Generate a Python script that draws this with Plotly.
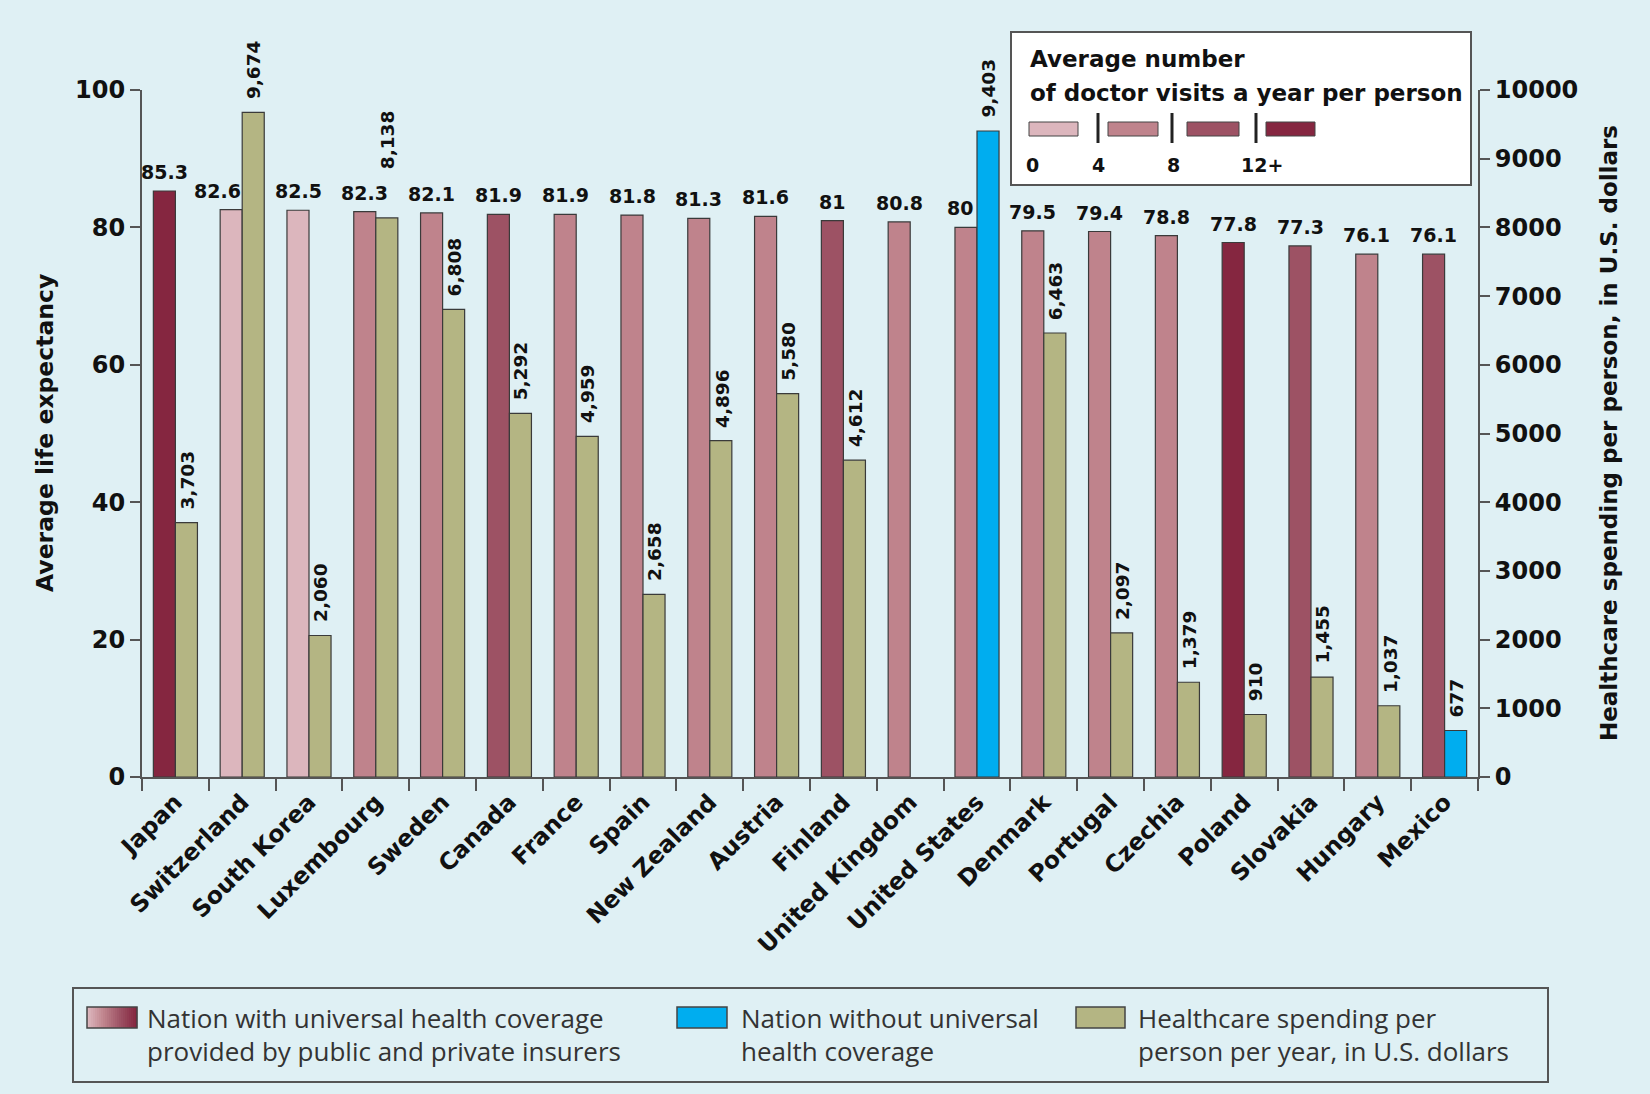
import plotly.graph_objects as go

# ---------------- data ----------------
countries = ["Japan", "Switzerland", "South Korea", "Luxembourg", "Sweden", "Canada",
             "France", "Spain", "New Zealand", "Austria", "Finland", "United Kingdom",
             "United States", "Denmark", "Portugal", "Czechia", "Poland", "Slovakia",
             "Hungary", "Mexico"]
life_expectancy = [85.3, 82.6, 82.5, 82.3, 82.1, 81.9, 81.9, 81.8, 81.3, 81.6, 81, 80.8,
                   80, 79.5, 79.4, 78.8, 77.8, 77.3, 76.1, 76.1]
spending = [3703, 9674, 2060, 8138, 6808, 5292, 4959, 2658, 4896, 5580, 4612, None,
            9403, 6463, 2097, 1379, 910, 1455, 1037, 677]
# doctor-visit band: 0 -> 0-4, 1 -> 4-8, 2 -> 8-12, 3 -> 12+
visit_band = [3, 0, 0, 1, 1, 2, 1, 1, 1, 1, 2, 1, 1, 1, 1, 1, 3, 2, 1, 2]
universal = [True, True, True, True, True, True, True, True, True, True, True, True,
             False, True, True, True, True, True, True, False]
visit_tick_labels = ["0", "4", "8", "12+"]
legend_labels = [
    ["Nation with universal health coverage", "provided by public and private insurers"],
    ["Nation without universal", "health coverage"],
    ["Healthcare spending per", "person per year, in U.S. dollars"],
]
left_title = "Average life expectancy"
right_title = "Healthcare spending per person, in U.S. dollars"
box_title = ["Average number", "of doctor visits a year per person"]

# ---------------- styles ----------------
BG = "#dff0f4"
VISIT_COLORS = ["#dcb6bd", "#bf838c", "#9d5264", "#852640"]
OLIVE = "#b4b583"
BLUE = "#00adef"
OUTLINE = "#3a3a3a"
AX = "#555555"
TXT = "#111111"
BOLD = "DejaVu Sans"
REG = "Open Sans"

W, H = 1650, 1094
L, R, T, B = 142, 1478, 90, 777


def px(x):
    return (x - L) / (R - L)


def py(y):
    return (B - y) / (B - T)


def hex_mix(c1, c2, t):
    a = [int(c1[i:i + 2], 16) for i in (1, 3, 5)]
    b = [int(c2[i:i + 2], 16) for i in (1, 3, 5)]
    return "#" + "".join(f"{round(a[j] + (b[j] - a[j]) * t):02x}" for j in range(3))


life_colors = [VISIT_COLORS[b] for b in visit_band]
spend_colors = [OLIVE if u else BLUE for u in universal]

fig = go.Figure()
fig.add_trace(go.Bar(x=countries, y=life_expectancy, width=0.33, offset=-0.33,
                     marker=dict(color=life_colors, line=dict(color=OUTLINE, width=1.2)),
                     showlegend=False, hoverinfo="x+y"))
fig.add_trace(go.Bar(x=countries, y=spending, width=0.33, offset=0.0, yaxis="y2",
                     marker=dict(color=spend_colors, line=dict(color=OUTLINE, width=1.2)),
                     showlegend=False, hoverinfo="x+y"))

annotations = []
shapes = []

life_xshift_extra = {"Switzerland": -14, "United States": -6}
spend_yshift_extra = {"Luxembourg": 36}

for c, v, s in zip(countries, life_expectancy, spending):
    annotations.append(dict(x=c, y=v, xref="x", yref="y", text=f"{v:g}", showarrow=False,
                            xanchor="center", yanchor="bottom",
                            xshift=-11 + life_xshift_extra.get(c, 0), yshift=6,
                            font=dict(family=BOLD, size=19, color=TXT, weight="bold")))
    if s is not None:
        annotations.append(dict(x=c, y=s, xref="x", yref="y2", text=f"{s:,}", showarrow=False,
                                textangle=-90, xanchor="center", yanchor="bottom",
                                xshift=12, yshift=11 + spend_yshift_extra.get(c, 0),
                                font=dict(family=BOLD, size=18.5, color=TXT, weight="bold")))

# axis titles
annotations.append(dict(x=px(45), y=py(433), xref="paper", yref="paper", text=left_title,
                        textangle=-90, showarrow=False, xanchor="center", yanchor="middle",
                        font=dict(family=BOLD, size=23.5, color=TXT, weight="bold")))
annotations.append(dict(x=px(1609), y=py(433), xref="paper", yref="paper", text=right_title,
                        textangle=-90, showarrow=False, xanchor="center", yanchor="middle",
                        font=dict(family=BOLD, size=23, color=TXT, weight="bold")))

# ---- doctor-visits key box (top right) ----
shapes.append(dict(type="rect", xref="paper", yref="paper", x0=px(1011), x1=px(1471),
                   y0=py(32), y1=py(185), fillcolor="white", line=dict(color=AX, width=2),
                   layer="above"))
for k, line in enumerate(box_title):
    annotations.append(dict(x=px(1028), y=py(59 + 34 * k), xref="paper", yref="paper",
                            text=line, showarrow=False, xanchor="left", yanchor="middle",
                            font=dict(family=BOLD, size=23, color=TXT, weight="bold")))
sw_x = [(1029, 1078), (1108, 1158), (1187, 1239), (1266, 1315)]
for (a, b), col in zip(sw_x, VISIT_COLORS):
    shapes.append(dict(type="rect", xref="paper", yref="paper", x0=px(a), x1=px(b),
                       y0=py(122), y1=py(136), fillcolor=col, line=dict(color="#444", width=1),
                       layer="above"))
for xs in [1098, 1172, 1256]:
    shapes.append(dict(type="line", xref="paper", yref="paper", x0=px(xs), x1=px(xs),
                       y0=py(113), y1=py(143), line=dict(color="#222", width=3), layer="above"))
for xs, lab in zip([1032, 1098, 1173, 1262], visit_tick_labels):
    annotations.append(dict(x=px(xs), y=py(165), xref="paper", yref="paper", text=lab,
                            showarrow=False, xanchor="center", yanchor="middle",
                            font=dict(family=BOLD, size=19, color=TXT, weight="bold")))

# ---- bottom legend ----
shapes.append(dict(type="rect", xref="paper", yref="paper", x0=px(73), x1=px(1548),
                   y0=py(988), y1=py(1082), line=dict(color=AX, width=2)))
# gradient swatch (light pink -> dark red)
sx0, sx1 = 87, 137
n_sl = 25
for k in range(n_sl):
    t = k / (n_sl - 1)
    seg = min(int(t * 3), 2)
    col = hex_mix(VISIT_COLORS[seg], VISIT_COLORS[seg + 1], t * 3 - seg)
    a = sx0 + (sx1 - sx0) * k / n_sl
    b = sx0 + (sx1 - sx0) * (k + 1) / n_sl
    shapes.append(dict(type="rect", xref="paper", yref="paper", x0=px(a), x1=px(b + 0.3),
                       y0=py(1007), y1=py(1028), fillcolor=col, line=dict(width=0)))
shapes.append(dict(type="rect", xref="paper", yref="paper", x0=px(sx0), x1=px(sx1),
                   y0=py(1007), y1=py(1028), line=dict(color="#444", width=1.5)))
for a, b, col in [(677, 727, BLUE), (1076, 1125, OLIVE)]:
    shapes.append(dict(type="rect", xref="paper", yref="paper", x0=px(a), x1=px(b),
                       y0=py(1007), y1=py(1028), fillcolor=col,
                       line=dict(color="#444", width=1.5)))
for tx, lines in zip([145, 739, 1136], legend_labels):
    for k, line in enumerate(lines):
        annotations.append(dict(x=px(tx), y=py(1018 + 33 * k), xref="paper", yref="paper",
                                text=line, showarrow=False, xanchor="left", yanchor="middle",
                                font=dict(family=REG, size=26, color="#333333")))

axis_common = dict(showgrid=False, zeroline=False, showline=True, linecolor=AX, linewidth=2,
                   tickwidth=2, tickcolor=AX, ticks="outside")

fig.update_layout(
    width=W, height=H,
    margin=dict(l=L, r=W - R, t=T, b=H - B, pad=0),
    paper_bgcolor=BG, plot_bgcolor=BG,
    barmode="overlay",
    showlegend=False,
    xaxis=dict(type="category", range=[-0.5, len(countries) - 0.5], tickson="boundaries",
               tickangle=-45, ticklen=12,
               tickfont=dict(family=BOLD, size=23.5, color=TXT, weight="bold"),
               **axis_common),
    yaxis=dict(range=[0, 100], dtick=20, ticklen=10,
               tickfont=dict(family=BOLD, size=24, color=TXT, weight="bold"), **axis_common),
    yaxis2=dict(range=[0, 10000], dtick=1000, overlaying="y", side="right", ticklen=10,
                tickformat="d",
                tickfont=dict(family=BOLD, size=24, color=TXT, weight="bold"), **axis_common),
    annotations=annotations,
    shapes=shapes,
)

fig.write_html("out.html")
